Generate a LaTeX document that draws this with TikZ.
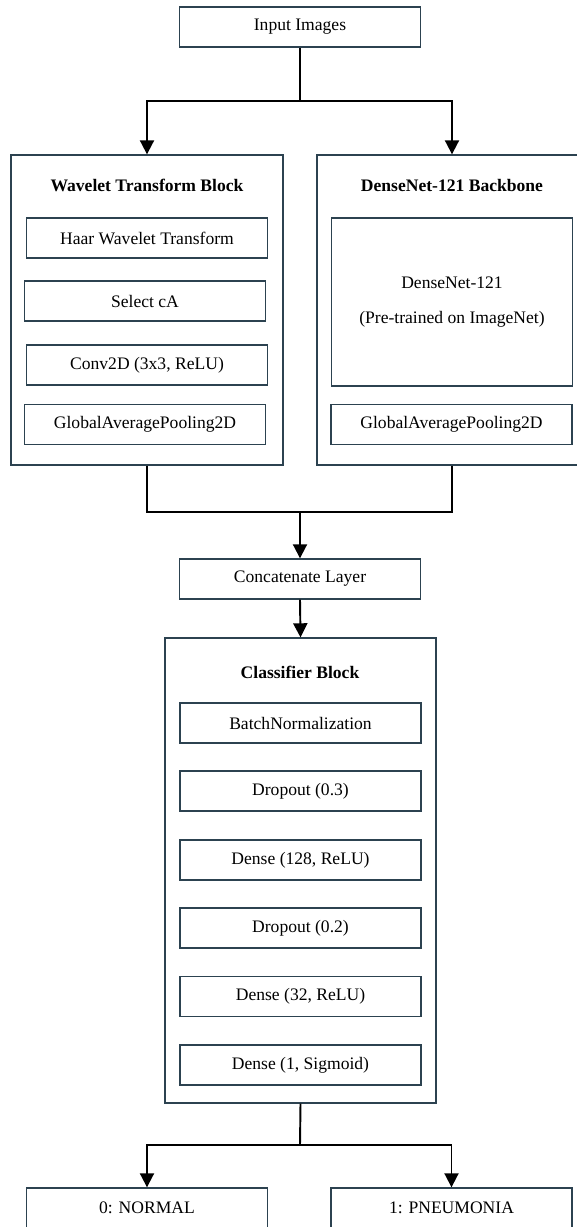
\documentclass[tikz,border=0pt]{standalone}
\usepackage{fontspec}
\setmainfont{Liberation Serif}
\usetikzlibrary{arrows.meta}
\definecolor{edgecol}{RGB}{44,66,80}
\tikzset{
    layer/.style={draw=edgecol, line width=0.8pt, minimum width=4.82cm, minimum height=0.8cm, inner sep=0pt, font=\fontsize{10}{12}\selectfont},
    block/.style={draw=edgecol, line width=0.8pt, inner sep=0pt},
    title/.style={font=\fontsize{10}{12}\selectfont\bfseries},
    flow/.style={line width=1.1pt, -{Triangle[length=8pt,width=8pt]}},
    link/.style={line width=1.1pt}
}
\begin{document}
\begin{tikzpicture}[x=0.02cm, y=-0.02cm]
    \useasboundingbox (0,0) rectangle (577,1227);
    \clip (0,0) rectangle (577,1227);

    % input and split
    \node[layer] (input) at (300,27) {Input Images};
    \coordinate (split) at (300,101);

    % wavelet branch
    \node[block, minimum width=5.44cm, minimum height=6.2cm] (wtb) at (147,310) {};
    \node[title] (wtbtitle) at (147,185) {Wavelet Transform Block};
    \node[layer] (haar) at (147,238) {Haar Wavelet Transform};
    \node[layer] (selca) at (145,301) {Select cA};
    \node[layer] (conv) at (147,365) {Conv2D (3x3, ReLU)};
    \node[layer] (gapw) at (145,424.5) {GlobalAveragePooling2D};

    % densenet branch
    \node[block, minimum width=5.4cm, minimum height=6.2cm] (dnb) at (452,310) {};
    \node[title] (dnbtitle) at (452,185) {DenseNet-121 Backbone};
    \node[layer, minimum height=3.36cm, align=center] (dense121) at (452,302)
        {DenseNet-121\\[8pt](Pre-trained on ImageNet)};
    \node[layer] (gapd) at (451.5,424.5) {GlobalAveragePooling2D};

    % merge
    \coordinate (merge) at (300,512);
    \node[layer] (concat) at (300,579) {Concatenate Layer};

    % classifier
    \node[block, minimum width=5.42cm, minimum height=9.3cm] (clf) at (300.5,870.5) {};
    \node[title] (clftitle) at (300,672) {Classifier Block};
    \node[layer] (bn) at (300.5,723) {BatchNormalization};
    \node[layer] (drop1) at (300.5,791) {Dropout (0.3)};
    \node[layer] (fc1) at (300.5,860) {Dense (128, ReLU)};
    \node[layer] (drop2) at (300.5,928) {Dropout (0.2)};
    \node[layer] (fc2) at (300.5,996.5) {Dense (32, ReLU)};
    \node[layer] (fc3) at (300.5,1065) {Dense (1, Sigmoid)};

    % outputs
    \coordinate (out) at (300,1145);
    \node[layer] (normal) at (147,1208) {0: NORMAL};
    \node[layer] (pneu) at (451.5,1208) {1: PNEUMONIA};

    % connectors
    \draw[link] (input.south) -- (split);
    \draw[flow] (split) -| (wtb.north);
    \draw[flow] (split) -| (dnb.north);
    \draw[link] (wtb.south) |- (merge);
    \draw[link] (dnb.south) |- (merge);
    \draw[flow] (merge) -- (concat.north);
    \draw[flow] (concat.south) -- (clf.north);
    \draw[link] (clf.south) -- (out);
    \draw[flow] (out) -| (normal.north);
    \draw[flow] (out) -| (pneu.north);
\end{tikzpicture}
\end{document}
